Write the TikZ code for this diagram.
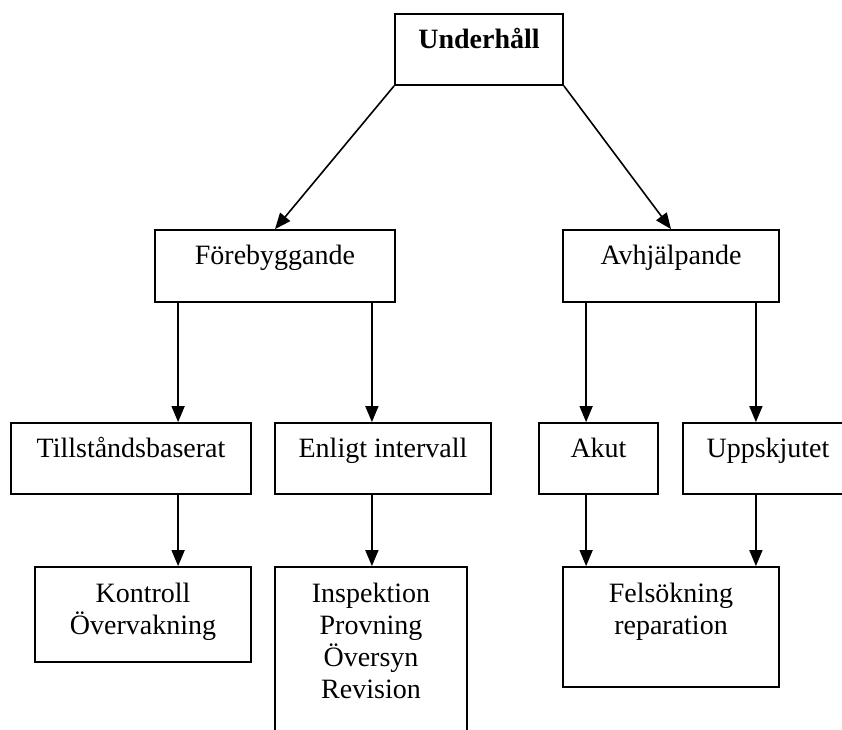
\documentclass[tikz,border=0pt]{standalone}
\usepackage{fontspec}
\setmainfont{Liberation Serif}
\usetikzlibrary{arrows.meta}
\begin{document}
\begin{tikzpicture}[x=1pt,y=-1pt,
  box/.style={draw, line width=1.8pt, rectangle, inner sep=0pt},
  lbl/.style={anchor=base, font=\fontsize{28}{32}\selectfont, align=center, inner sep=0pt},
  arr/.style={line width=1.6pt, -{Triangle[length=16pt,width=13pt]}}]
\clip (0,0) rectangle (842,729);
\fill[white] (0,0) rectangle (842,729);
% boxes
\node[box, minimum width=168pt, minimum height=71pt] (u)  at (479,49.5) {};
\node[box, minimum width=240pt, minimum height=72pt] (f)  at (275,266) {};
\node[box, minimum width=216pt, minimum height=72pt] (a)  at (671,266) {};
\node[box, minimum width=240pt, minimum height=71pt] (t)  at (131,458.5) {};
\node[box, minimum width=216pt, minimum height=71pt] (e)  at (383,458.5) {};
\node[box, minimum width=119pt, minimum height=71pt] (ak) at (598.5,458.5) {};
\node[box, minimum width=170pt, minimum height=71pt] (up) at (768,458.5) {};
\node[box, minimum width=216pt, minimum height=95pt] (ko) at (143,614.5) {};
\node[box, minimum width=192pt, minimum height=193pt] (in) at (371,663.5) {};
\node[box, minimum width=216pt, minimum height=120pt] (fe) at (671,627) {};
% texts (base anchor = baseline of the last line)
\node[lbl, font=\fontsize{28}{32}\selectfont\bfseries] (tu) at ([yshift=-35pt]u.north) {Underhåll};
\node[lbl] (tf)  at ([yshift=-35pt]f.north) {Förebyggande};
\node[lbl] (ta)  at ([yshift=-35pt]a.north) {Avhjälpande};
\node[lbl] (tt)  at ([yshift=-35pt]t.north) {Tillståndsbaserat};
\node[lbl] (te)  at ([yshift=-35pt]e.north) {Enligt intervall};
\node[lbl] (tak) at ([yshift=-35pt]ak.north) {Akut};
\node[lbl] (tup) at ([yshift=-35pt]up.north) {Uppskjutet};
\node[lbl] (tko) at ([yshift=-68pt]ko.north) {Kontroll\\Övervakning};
\node[lbl] (tin) at ([yshift=-132pt]in.north) {Inspektion\\Provning\\Översyn\\Revision};
\node[lbl] (tfe) at ([yshift=-68pt]fe.north) {Felsökning\\reparation};
% connector anchors
\coordinate (c1) at ([xshift=24pt]f.south west);
\coordinate (c2) at ([xshift=-24pt]f.south east);
\coordinate (c3) at ([xshift=24pt]a.south west);
\coordinate (c4) at ([xshift=-24pt]a.south east);
% connectors
\draw[arr] (u.south west) -- (f.north);
\draw[arr] (u.south east) -- (a.north);
\draw[arr] (c1) -- (c1 |- t.north);
\draw[arr] (c2) -- (c2 |- e.north);
\draw[arr] (c3) -- (c3 |- ak.north);
\draw[arr] (c4) -- (c4 |- up.north);
\draw[arr] (c1 |- t.south) -- (c1 |- ko.north);
\draw[arr] (c2 |- e.south) -- (c2 |- in.north);
\draw[arr] (c3 |- ak.south) -- (c3 |- fe.north);
\draw[arr] (c4 |- up.south) -- (c4 |- fe.north);
\end{tikzpicture}
\end{document}
